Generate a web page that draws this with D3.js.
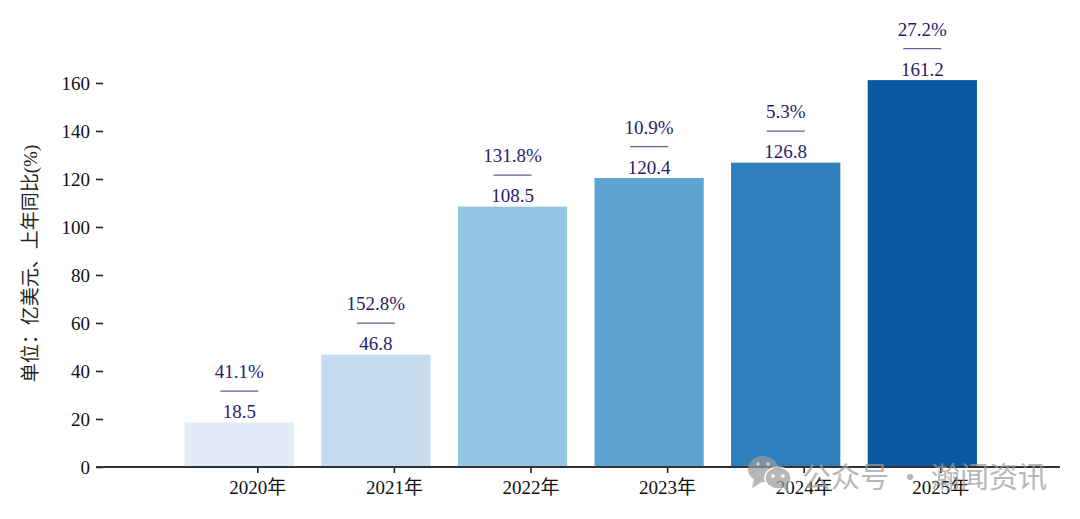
<!DOCTYPE html>
<html>
<head>
<meta charset="utf-8">
<script src="https://cdn.jsdelivr.net/npm/d3@7"></script>
<style>
  html, body { margin: 0; padding: 0; background: #fff; }
  svg { display: block; }
  text { font-family: "Liberation Serif", "Noto Sans CJK SC", serif; }
</style>
</head>
<body>
<div id="chart-area"></div>
<script>
// data
const years = ["2020年", "2021年", "2022年", "2023年", "2024年", "2025年"]
const sales = [18.5, 46.8, 108.5, 120.4, 126.8, 161.2]
const growth = ["41.1%", "152.8%", "131.8%", "10.9%", "5.3%", "27.2%"]
const barColors = ["#e2ecf7", "#c6daf0", "#96c4e2", "#5ca5d2", "#2f7fbc", "#0c59a3"]
const yTicks = [0, 20, 40, 60, 80, 100, 120, 140, 160]

const WIDTH = 1080
const HEIGHT = 519
const AXIS_LEFT = 96
const AXIS_RIGHT = 1060
const BASELINE = 467
const TICK_SHIFT = 18 // x ticks sit to the right of the bar centres
const INK = "#2a1a6e"
const FONT_SIZE = "19px"

const svg = d3.select("#chart-area").append("svg")
    .attr("width", WIDTH)
    .attr("height", HEIGHT)

const x = d3.scaleBand()
    .domain(years)
    .range([171, 990.6])
    .paddingInner(0.2)
    .paddingOuter(0.1)

const y = d3.scaleLinear()
    .domain([0, 160])
    .range([BASELINE, 83])

// bars
svg.selectAll("rect.bar")
    .data(years)
    .enter().append("rect")
    .attr("class", "bar")
    .attr("x", d => x(d))
    .attr("width", x.bandwidth())
    .attr("y", (d, i) => y(sales[i]))
    .attr("height", (d, i) => BASELINE - y(sales[i]))
    .attr("fill", (d, i) => barColors[i])

// y axis
const yAxisGroup = svg.append("g")
    .attr("transform", `translate(${AXIS_LEFT + 7}, 0)`)
    .call(d3.axisLeft(y).tickValues(yTicks).tickSize(7).tickPadding(6))
yAxisGroup.select(".domain").remove()
yAxisGroup.selectAll("line").attr("stroke", "#222").attr("stroke-width", 1.6)
yAxisGroup.selectAll("text").attr("font-size", FONT_SIZE).attr("fill", "#111")
    .style("font-family", "'Liberation Serif', serif")

// x axis
const xTickScale = d3.scalePoint()
    .domain(years)
    .range([x(years[0]) + x.bandwidth() / 2 + TICK_SHIFT, x(years[5]) + x.bandwidth() / 2 + TICK_SHIFT])

const xAxisGroup = svg.append("g")
    .attr("transform", `translate(0, ${BASELINE})`)
    .call(d3.axisBottom(xTickScale).tickSize(6).tickPadding(8))
xAxisGroup.select(".domain").remove()
xAxisGroup.selectAll("line").attr("stroke", "#222").attr("stroke-width", 1.6)
xAxisGroup.selectAll("text").attr("font-size", FONT_SIZE).attr("fill", "#111")

svg.append("line")
    .attr("x1", AXIS_LEFT).attr("x2", AXIS_RIGHT)
    .attr("y1", BASELINE).attr("y2", BASELINE)
    .attr("stroke", "#333").attr("stroke-width", 2)

// Y label
svg.append("text")
    .attr("transform", "translate(36.5, 263.5) rotate(-90)")
    .attr("text-anchor", "middle")
    .attr("font-size", FONT_SIZE)
    .attr("fill", "#222")
    .text("单位：亿美元、上年同比(%)")

// value, rule and growth above each bar
const labels = svg.selectAll("g.label")
    .data(years)
    .enter().append("g")
    .attr("class", "label")
    .attr("transform", (d, i) => `translate(${x(d) + x.bandwidth() / 2}, ${y(sales[i])})`)

labels.append("text")
    .attr("y", -4.5)
    .attr("text-anchor", "middle")
    .attr("font-size", FONT_SIZE)
    .attr("fill", INK)
    .text((d, i) => sales[i])

labels.append("line")
    .attr("x1", -19).attr("x2", 19)
    .attr("y1", -31.5).attr("y2", -31.5)
    .attr("stroke", INK).attr("stroke-opacity", 0.7).attr("stroke-width", 1.2)

labels.append("text")
    .attr("y", -44.5)
    .attr("text-anchor", "middle")
    .attr("font-size", FONT_SIZE)
    .attr("fill", INK)
    .text((d, i) => growth[i])

// watermark
const mark = svg.append("g").attr("opacity", 0.72).attr("fill", "#9c9c9c")
mark.append("ellipse").attr("cx", 763).attr("cy", 469).attr("rx", 15).attr("ry", 13)
mark.append("path").attr("d", "M754 479 L752 488 L762 482 Z")
mark.append("ellipse").attr("cx", 778).attr("cy", 478).attr("rx", 13).attr("ry", 11)
    .attr("stroke", "#fff").attr("stroke-width", 1.5)
mark.append("path").attr("d", "M783 487 L788 493 L788 483 Z")
mark.selectAll("circle")
    .data([[758, 464], [768, 464], [773, 476], [783, 476]])
    .enter().append("circle")
    .attr("cx", d => d[0]).attr("cy", d => d[1]).attr("r", 1.8)
    .attr("fill", "#fff")
mark.append("text")
    .attr("x", 802).attr("y", 488)
    .attr("font-size", "29px")
    .style("font-family", "'Noto Sans CJK SC', sans-serif")
    .text("公众号 · 瀚闻资讯")
</script>
</body>
</html>
